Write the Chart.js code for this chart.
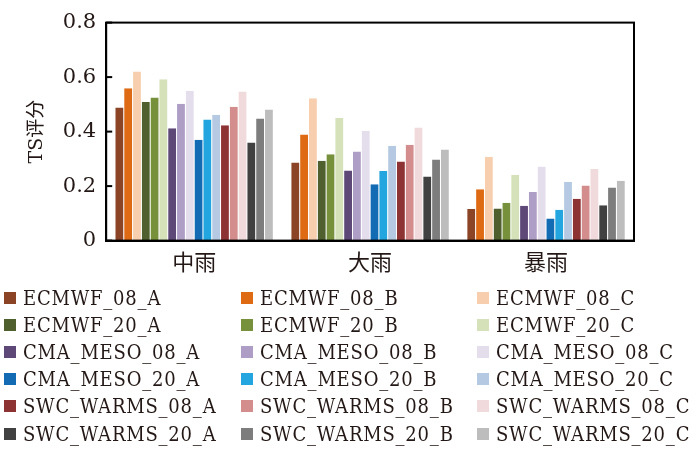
<!DOCTYPE html>
<html>
<head>
<meta charset="utf-8">
<script src="https://cdn.jsdelivr.net/npm/chart.js@4/dist/chart.umd.min.js"></script>
<style>
  html, body { margin: 0; padding: 0; background: #fff; }
  #wrap { position: relative; width: 700px; height: 451px; }
  #chartBox { position: absolute; left: 0; top: 0; width: 700px; height: 287px; }
  #legend {
    position: absolute; left: 4px; top: 284px;
    display: grid; grid-template-columns: 237px 236px 220px;
    grid-auto-rows: 27.2px;
    font-family: "DejaVu Serif Condensed", "DejaVu Serif", serif;
    font-stretch: condensed;
    font-size: 20px; letter-spacing: 0.8px; color: #231815;
  }
  .item { display: flex; align-items: center; white-space: nowrap; }
  .box { width: 12px; height: 12px; margin-right: 7px; flex: none; }
</style>
</head>
<body>
<div id="wrap">
  <div id="chartBox"><canvas id="chart"></canvas></div>
  <div id="legend"></div>
</div>
<script>
const categories = ['中雨', '大雨', '暴雨'];

const seriesNames = [
  'ECMWF_08_A', 'ECMWF_08_B', 'ECMWF_08_C',
  'ECMWF_20_A', 'ECMWF_20_B', 'ECMWF_20_C',
  'CMA_MESO_08_A', 'CMA_MESO_08_B', 'CMA_MESO_08_C',
  'CMA_MESO_20_A', 'CMA_MESO_20_B', 'CMA_MESO_20_C',
  'SWC_WARMS_08_A', 'SWC_WARMS_08_B', 'SWC_WARMS_08_C',
  'SWC_WARMS_20_A', 'SWC_WARMS_20_B', 'SWC_WARMS_20_C'
];

const seriesColors = [
  '#8b4426', '#de6a14', '#f7cfae',
  '#4f5f2e', '#76903c', '#d5e1b9',
  '#5e4878', '#ae9dc4', '#e4ddec',
  '#136bb4', '#23a6e0', '#b5cae2',
  '#8e3334', '#d38d8c', '#f0dadb',
  '#414141', '#7d7d7d', '#bdbdbd'
];

// TS per model, order: 中雨, 大雨, 暴雨
const ecmwf08A = [0.488, 0.287, 0.116];
const ecmwf08B = [0.559, 0.389, 0.188];
const ecmwf08C = [0.621, 0.522, 0.308];
const ecmwf20A = [0.509, 0.293, 0.118];
const ecmwf20B = [0.525, 0.317, 0.139];
const ecmwf20C = [0.592, 0.450, 0.241];
const cma08A = [0.412, 0.257, 0.128];
const cma08B = [0.502, 0.327, 0.178];
const cma08C = [0.549, 0.402, 0.272];
const cma20A = [0.370, 0.207, 0.081];
const cma20B = [0.444, 0.255, 0.113];
const cma20C = [0.462, 0.348, 0.215];
const swc08A = [0.423, 0.290, 0.154];
const swc08B = [0.491, 0.352, 0.202];
const swc08C = [0.547, 0.415, 0.263];
const swc20A = [0.360, 0.235, 0.130];
const swc20B = [0.448, 0.298, 0.195];
const swc20C = [0.481, 0.334, 0.220];

const seriesValues = [
  ecmwf08A, ecmwf08B, ecmwf08C, ecmwf20A, ecmwf20B, ecmwf20C,
  cma08A, cma08B, cma08C, cma20A, cma20B, cma20C,
  swc08A, swc08B, swc08C, swc20A, swc20B, swc20C
];

const yTicks = [0, 0.2, 0.4, 0.6, 0.8];

const serif = '"DejaVu Serif", "Noto Sans CJK SC", serif';

// full frame plus inward ticks on the y axis
const frame = {
  id: 'frame',
  afterDraw(chart) {
    const { ctx, chartArea: a, scales } = chart;
    ctx.save();
    ctx.strokeStyle = '#000';
    ctx.lineWidth = 2;
    ctx.strokeRect(a.left, a.top, a.right - a.left, a.bottom - a.top);
    yTicks.forEach((t) => {
      const y = scales.y.getPixelForValue(t);
      ctx.beginPath();
      ctx.moveTo(a.left, y);
      ctx.lineTo(a.left + 6, y);
      ctx.stroke();
    });
    ctx.restore();
  }
};

const chart = new Chart(document.getElementById('chart'), {
  type: 'bar',
  data: {
    labels: categories,
    datasets: seriesNames.map((name, i) => ({
      label: name,
      data: seriesValues[i],
      backgroundColor: seriesColors[i],
      borderColor: '#ffffff',
      borderWidth: { left: 0.5, right: 0.5, top: 0, bottom: 0 },
      barPercentage: 1,
      categoryPercentage: 0.9
    }))
  },
  options: {
    responsive: true,
    maintainAspectRatio: false,
    animation: false,
    layout: { padding: { top: 0, right: 66, left: 22, bottom: 0 } },
    plugins: {
      legend: { display: false },
      tooltip: { enabled: false }
    },
    scales: {
      x: {
        grid: { display: false, drawTicks: false },
        border: { display: true, color: '#000', width: 2 },
        ticks: { color: '#231815', font: { family: serif, size: 22 }, padding: 10 }
      },
      y: {
        min: 0,
        max: 0.8,
        afterBuildTicks: (axis) => { axis.ticks = yTicks.map((v) => ({ value: v })); },
        grid: { display: false, drawTicks: false },
        border: { display: true, color: '#000', width: 2 },
        ticks: {
          color: '#231815',
          font: { family: serif, size: 21 },
          padding: 10,
          callback: (v) => (v === 0 ? '0' : v.toFixed(1))
        },
        title: {
          display: true,
          text: 'TS评分',
          color: '#231815',
          font: { family: serif, size: 19 },
          padding: { bottom: 4 }
        }
      }
    }
  },
  plugins: [frame]
});

const legend = document.getElementById('legend');
seriesNames.forEach((name, i) => {
  const item = document.createElement('div');
  item.className = 'item';
  const box = document.createElement('span');
  box.className = 'box';
  box.style.background = seriesColors[i];
  const label = document.createElement('span');
  label.textContent = name;
  item.appendChild(box);
  item.appendChild(label);
  legend.appendChild(item);
});
</script>
</body>
</html>
